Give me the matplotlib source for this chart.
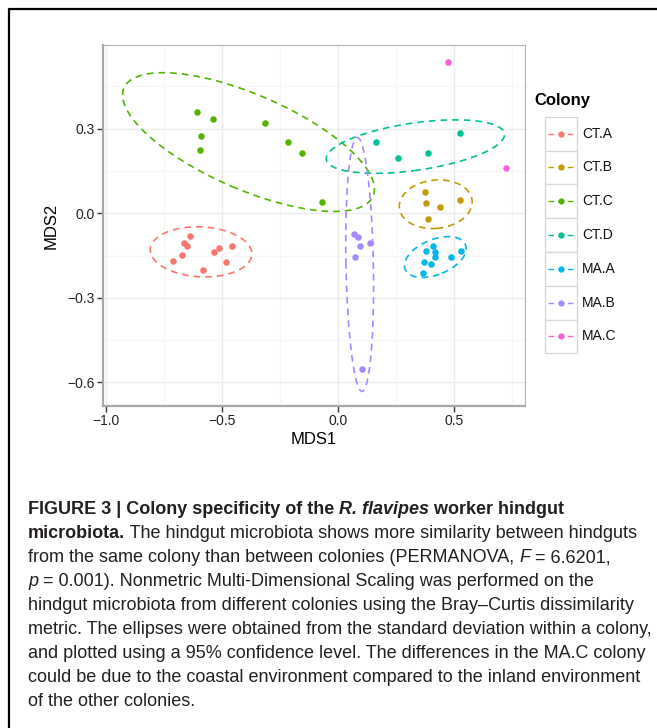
#!/usr/bin/env python3

"""
NMDS plot of hindgut microbiota by colony, with sd ellipses (95%).
"""

import numpy as np
import matplotlib.pyplot as plt
from matplotlib.patches import Rectangle
from matplotlib.ticker import MultipleLocator

plt.rcParams["font.family"] = ["Liberation Sans", "DejaVu Sans"]

colonies = ["CT.A", "CT.B", "CT.C", "CT.D", "MA.A", "MA.B", "MA.C"]
colors = ["#F8766D", "#C49A00", "#53B400", "#00C094",
          "#00B6EB", "#A58AFF", "#FB61D7"]

ct_a_x = [-0.638, -0.665, -0.648, -0.672, -0.710, -0.580, -0.533, -0.510, -0.457, -0.480]
ct_a_y = [-0.082, -0.105, -0.116, -0.149, -0.168, -0.202, -0.137, -0.122, -0.116, -0.174]
ct_b_x = [0.375, 0.381, 0.441, 0.527, 0.387]
ct_b_y = [0.076, 0.037, 0.021, 0.046, -0.020]
ct_c_x = [-0.606, -0.539, -0.590, -0.592, -0.313, -0.216, -0.154, -0.069]
ct_c_y = [0.358, 0.335, 0.273, 0.226, 0.321, 0.254, 0.214, 0.039]
ct_d_x = [0.165, 0.259, 0.388, 0.526]
ct_d_y = [0.252, 0.196, 0.215, 0.283]
ma_a_x = [0.409, 0.381, 0.417, 0.417, 0.372, 0.401, 0.369, 0.488, 0.530]
ma_a_y = [-0.115, -0.135, -0.138, -0.156, -0.174, -0.180, -0.212, -0.156, -0.133]
ma_b_x = [0.068, 0.088, 0.095, 0.137, 0.075, 0.103]
ma_b_y = [-0.075, -0.085, -0.115, -0.106, -0.157, -0.553]
ma_c_x = [0.477, 0.727]
ma_c_y = [0.537, 0.161]

mds1 = [ct_a_x, ct_b_x, ct_c_x, ct_d_x, ma_a_x, ma_b_x, ma_c_x]
mds2 = [ct_a_y, ct_b_y, ct_c_y, ct_d_y, ma_a_y, ma_b_y, ma_c_y]

caption = [
    [("FIGURE 3 | Colony specificity of the ", "bold", "normal"),
     ("R. flavipes", "bold", "italic"),
     (" worker hindgut", "bold", "normal")],
    [("microbiota.", "bold", "normal"),
     (" The hindgut microbiota shows more similarity between hindguts", "normal", "normal")],
    [("from the same colony than between colonies (PERMANOVA, ", "normal", "normal"),
     ("F", "normal", "italic"),
     (" = 6.6201,", "normal", "normal")],
    [("p", "normal", "italic"),
     (" = 0.001). Nonmetric Multi-Dimensional Scaling was performed on the", "normal", "normal")],
    [("hindgut microbiota from different colonies using the Bray\u2013Curtis dissimilarity", "normal", "normal")],
    [("metric. The ellipses were obtained from the standard deviation within a colony,", "normal", "normal")],
    [("and plotted using a 95% confidence level. The differences in the MA.C colony", "normal", "normal")],
    [("could be due to the coastal environment compared to the inland environment", "normal", "normal")],
    [("of the other colonies.", "normal", "normal")],
]

W, H = 657, 728


def sd_ellipse(x, y, n=200):
    # ordiellipse(kind="sd", conf=0.95)
    pts = np.column_stack([x, y])
    center = pts.mean(axis=0)
    cov = np.cov(pts, rowvar=False)
    vals, vecs = np.linalg.eigh(cov)
    scale = np.sqrt(-2 * np.log(0.05))
    t = np.linspace(0, 2 * np.pi, n)
    circle = np.column_stack([np.cos(t), np.sin(t)])
    return center + scale * circle @ (vecs * np.sqrt(np.clip(vals, 0, None))).T


def main() -> None:
    fig = plt.figure(figsize=(W / 100, H / 100), dpi=100)
    left, right, top, bottom = 103, 525, 45, 406
    ax = fig.add_axes([left / W, 1 - bottom / H, (right - left) / W, (bottom - top) / H])

    for xs, ys, col in zip(mds1, mds2, colors):
        ax.scatter(xs, ys, s=22, color=col, linewidths=0, zorder=3)
        if len(xs) >= 3:
            ell = sd_ellipse(xs, ys)
            ax.plot(ell[:, 0], ell[:, 1], color=col, lw=1.2,
                    linestyle=(0, (4, 3)), zorder=2)

    ax.set_xlim(-1.012, 0.807)
    ax.set_ylim(-0.684, 0.597)
    ax.xaxis.set_minor_locator(MultipleLocator(0.25))
    ax.yaxis.set_minor_locator(MultipleLocator(0.15))
    ax.set_xticks([-1.0, -0.5, 0.0, 0.5])
    ax.set_xticklabels(["\u22121.0", "\u22120.5", "0.0", "0.5"])
    ax.set_yticks([-0.6, -0.3, 0.0, 0.3])
    ax.set_yticklabels(["\u22120.6", "\u22120.3", "0.0", "0.3"])
    ax.grid(which="major", color="#EBEBEB", lw=1.0, zorder=0)
    ax.grid(which="minor", color="#F5F5F5", lw=0.8, zorder=0)
    ax.set_axisbelow(True)
    for side in ["top", "right"]:
        ax.spines[side].set_color("#B0B0B0")
        ax.spines[side].set_linewidth(0.8)
    for side in ["left", "bottom"]:
        ax.spines[side].set_color("#A8A8A8")
        ax.spines[side].set_linewidth(1.6)
    ax.tick_params(which="major", length=4, width=1.0, color="#333333",
                   labelsize=10, labelcolor="#222222", pad=2)
    ax.tick_params(which="minor", length=0)
    ax.set_xlabel("MDS1", fontsize=12, labelpad=3)
    ax.set_ylabel("MDS2", fontsize=12, labelpad=6)

    # overlay in pixel coordinates for frame, legend and caption
    ov = fig.add_axes([0, 0, 1, 1], zorder=5)
    ov.set_xlim(0, W)
    ov.set_ylim(H, 0)
    ov.axis("off")
    ov.plot([9, 9, W], [H, 9, 9], color="black", lw=1.6, solid_capstyle="butt")

    # legend
    ov.text(534, 101, "Colony", fontsize=12, fontweight="bold", va="center", ha="left")
    key_top, key_h, key_l, key_w = 116.7, 33.8, 545, 32
    for i, (name, col) in enumerate(zip(colonies, colors)):
        y0 = key_top + i * key_h
        ov.add_patch(Rectangle((key_l, y0), key_w, key_h, facecolor="white",
                               edgecolor="#D6D6D6", lw=0.9))
        yc = y0 + key_h / 2
        ov.plot([key_l + 3, key_l + key_w - 3], [yc, yc], color=col, lw=1.0,
                linestyle=(0, (4, 3)))
        ov.plot([key_l + key_w / 2], [yc], "o", color=col, ms=4.5, mew=0)
        ov.text(582, yc, name, fontsize=10, va="center", ha="left", color="#111111")

    # caption with mixed styles
    fig.canvas.draw()
    renderer = fig.canvas.get_renderer()
    y = 510
    for line in caption:
        x = 28
        for txt, weight, style in line:
            t = ov.text(x, y, txt, fontsize=13, fontweight=weight, fontstyle=style,
                        va="center", ha="left", color="#231F20")
            bb = t.get_window_extent(renderer=renderer)
            x += bb.width
        y += 23.9

    fig.savefig("out.png", dpi=100)


if __name__ == "__main__":
    main()
